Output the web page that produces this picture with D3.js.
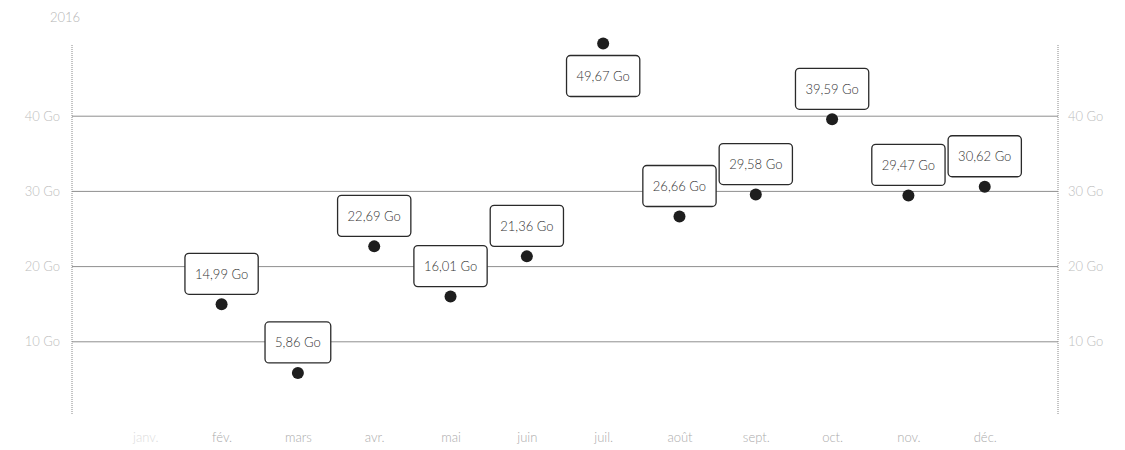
<!DOCTYPE html>
<html><head><meta charset="utf-8">
<script src="https://cdn.jsdelivr.net/npm/d3@7"></script>
<style>
body{margin:0;background:#fff;}
svg{display:block;font-family:Lato,"Open Sans",sans-serif;}
</style></head>
<body><svg id="c" width="1125" height="450"></svg>
<script>
const months = ["janv.","fév.","mars","avr.","mai","juin","juil.","août","sept.","oct.","nov.","déc."];
const values = [null,14.99,5.86,22.69,16.01,21.36,49.67,26.66,29.58,39.59,29.47,30.62];
const yTicks = [10,20,30,40];
const title = "2016";

const svg = d3.select("#c");
const L = 72, R = 1058, T = 41, B = 417;
const x = d3.scalePoint().domain(months).range([L, R]).padding(0.96);
const y = d3.scaleLinear().domain([0,50]).range([B, T]);
const fmt = v => d3.format(".2f")(v).replace(".", ",") + " Go";

svg.append("text").attr("x", 50).attr("y", 22).attr("fill", "#b5b5b5")
  .attr("font-size", 13).attr("font-weight", 300).text(title);

// gridlines
svg.append("g").selectAll("line").data(yTicks).join("line")
  .attr("x1", L).attr("x2", R).attr("y1", d => y(d)).attr("y2", d => y(d))
  .attr("stroke", "#8f8f8f").attr("stroke-width", 1);

// dotted vertical axes
[L, R].forEach(xx => svg.append("line").attr("x1", xx).attr("x2", xx)
  .attr("y1", 45).attr("y2", 415).attr("stroke", "#888")
  .attr("stroke-dasharray", "1,1").attr("stroke-width", 1));

const yl = d3.axisLeft(y).tickValues(yTicks).tickSize(0).tickPadding(12).tickFormat(d => d + " Go");
const yr = d3.axisRight(y).tickValues(yTicks).tickSize(0).tickPadding(10).tickFormat(d => d + " Go");
const gl = svg.append("g").attr("transform", `translate(${L},0)`).call(yl);
const gr = svg.append("g").attr("transform", `translate(${R},0)`).call(yr);
[gl, gr].forEach(g => {
  g.select(".domain").remove();
  g.selectAll("text").attr("fill", "#bdbdbd").attr("font-size", 13).attr("font-weight", 300).attr("font-family", "Lato,sans-serif");
});

const xa = d3.axisBottom(x).tickSize(0).tickPadding(0);
const gx = svg.append("g").attr("transform", `translate(0,433)`).call(xa);
gx.select(".domain").remove();
gx.selectAll("text").attr("fill", "#ababab").attr("font-size", 13).attr("font-weight", 300).attr("font-family", "Lato,sans-serif");
gx.selectAll("text").filter(d => d === "janv.").attr("fill", "#dcdcdc");

const data = months.map((m, i) => ({m, v: values[i]})).filter(d => d.v != null);

const boxH = 41, gap = 10;
const lab = svg.append("g").selectAll("g").data(data).join("g");
lab.each(function(d) {
  const g = d3.select(this);
  const cx = x(d.m), cy = y(d.v);
  const t = g.append("text").attr("font-size", 13).attr("font-weight", 300).attr("fill", "#333")
    .attr("text-anchor", "middle").attr("dominant-baseline", "central").text(fmt(d.v));
  const w = t.node().getComputedTextLength() + 20;
  let top = cy - gap - boxH;
  if (top < 5) top = cy + 12;
  g.insert("rect", "text").attr("x", cx - w/2).attr("y", top).attr("width", w).attr("height", boxH)
    .attr("rx", 4).attr("fill", "#fff").attr("stroke", "#2a2a2a").attr("stroke-width", 1.3);
  t.attr("x", cx).attr("y", top + boxH/2);
});

svg.append("g").selectAll("circle").data(data).join("circle")
  .attr("cx", d => x(d.m)).attr("cy", d => y(d.v)).attr("r", 6).attr("fill", "#1e1e1e");
</script></body></html>
